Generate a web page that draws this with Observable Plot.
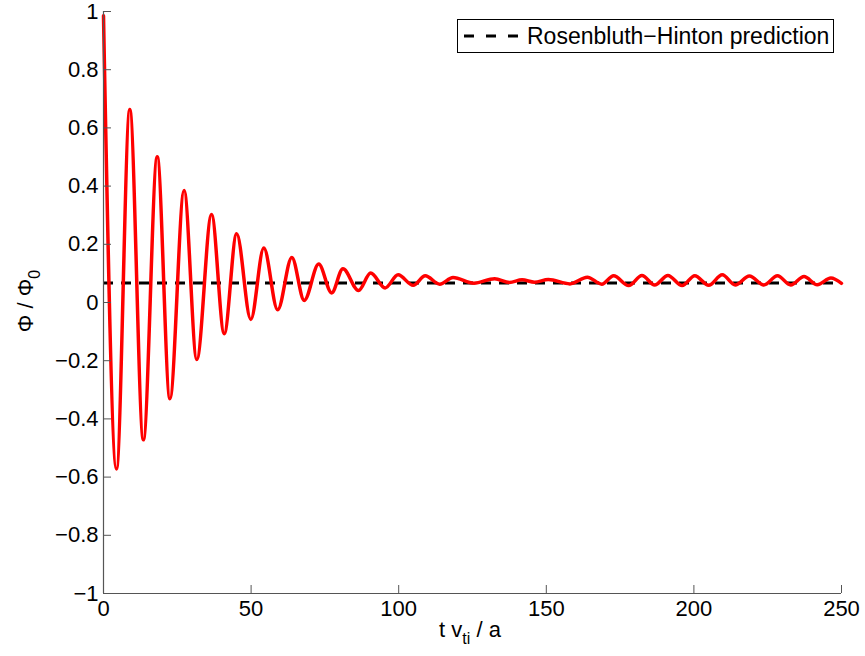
<!DOCTYPE html>
<html><head><meta charset="utf-8">
<script src="https://cdn.jsdelivr.net/npm/d3@7"></script>
<script src="https://cdn.jsdelivr.net/npm/@observablehq/plot@0.6"></script>
<style>
body{margin:0;background:#fff;}
#wrap{position:relative;width:865px;height:656px;font-family:"Liberation Sans",Arial,Helvetica,sans-serif;}
#legend{position:absolute;left:457px;top:19px;width:377px;height:34px;border:1px solid #000;background:#fff;box-sizing:border-box;display:flex;align-items:center;font-size:23px;color:#000;}
#legend svg{margin-left:3px;margin-right:6px;}
</style></head><body><div id="wrap"></div>
<script>
// extrema (peaks/troughs)
const tValues = [0, 4.4, 8.9, 13.5, 18.2, 22.5, 27.3, 31.6, 36.6, 40.9, 45.1, 49.9, 54.3, 59.0, 63.8, 68.0, 72.9, 77.3, 81.1, 86.4, 90.5, 95.4, 99.8, 104.9, 109.0, 113.9, 118.4, 125.5, 132.5, 137.5, 141.8, 146.0, 150.7, 158.0, 163.9, 168.8, 172.8, 177.9, 182.4, 186.7, 191.2, 196.0, 200.3, 205.0, 209.6, 214.0, 218.8, 223.7, 228.3, 232.8, 237.3, 241.8, 246.4, 250];
const phiValues = [0.985, -0.572, 0.663, -0.472, 0.501, -0.331, 0.385, -0.196, 0.302, -0.107, 0.236, -0.058, 0.187, -0.025, 0.155, 0.007, 0.132, 0.033, 0.116, 0.041, 0.101, 0.050, 0.095, 0.059, 0.092, 0.063, 0.086, 0.066, 0.082, 0.069, 0.078, 0.070, 0.079, 0.064, 0.087, 0.063, 0.092, 0.058, 0.093, 0.060, 0.093, 0.058, 0.092, 0.059, 0.095, 0.060, 0.091, 0.060, 0.092, 0.060, 0.089, 0.061, 0.084, 0.066];
const rhValue = 0.067;
const xTicks = [0, 50, 100, 150, 200, 250];
const yTicks = [-1, -0.8, -0.6, -0.4, -0.2, 0, 0.2, 0.4, 0.6, 0.8, 1];
const legendLabel = "Rosenbluth\u2212Hinton prediction";

const series = tValues.map((t, i) => ({t, phi: phiValues[i]}));
const fmt = d => (d < 0 ? "\u2212" : "") + String(+Math.abs(d).toFixed(1));
const FONT = "'Liberation Sans', Arial, Helvetica, sans-serif";
const axisColor = "#555";

const chart = Plot.plot({
  width: 865, height: 656,
  marginLeft: 103, marginRight: 24, marginTop: 11, marginBottom: 63,
  style: {fontFamily: FONT, fontSize: "22px", background: "#fff", color: "#000"},
  x: {domain: [0, 250]},
  y: {domain: [-1, 1]},
  marks: [
    Plot.ruleY([rhValue], {stroke: "#000", strokeWidth: 3, strokeDasharray: "10,8"}),
    Plot.line(series, {x: "t", y: "phi", stroke: "#ff0000", strokeWidth: 3.5, curve: "monotone-x"}),
    Plot.ruleX([0], {stroke: axisColor, strokeWidth: 1.2}),
    Plot.ruleY([-1], {stroke: axisColor, strokeWidth: 1.2}),
    Plot.axisX(xTicks, {tickSize: 8, dy: -8, tickFormat: () => "", label: null, stroke: axisColor}),
    Plot.axisX(xTicks, {tickSize: 0, tickPadding: 7, tickFormat: fmt, label: null, fontSize: 22, fill: "#000"}),
    Plot.axisY(yTicks, {tickSize: 8, dx: 8, tickFormat: () => "", label: null, stroke: axisColor}),
    Plot.axisY(yTicks, {tickSize: 0, tickPadding: 5, tickFormat: fmt, label: null, fontSize: 22, fill: "#000"})
  ]
});

const wrap = document.getElementById("wrap");
wrap.appendChild(chart);

const svg = d3.select(chart);
// x label with subscript
const xl = svg.append("text").attr("x", 470).attr("y", 637).attr("text-anchor", "middle")
  .attr("font-family", FONT).attr("font-size", 22).attr("fill", "#000");
xl.append("tspan").text("t v");
xl.append("tspan").attr("font-size", 16).attr("dy", 7).text("ti");
xl.append("tspan").attr("dy", -7).text(" / a");
// y label with subscript
const yl = svg.append("text").attr("transform", "translate(33,301) rotate(-90)").attr("text-anchor", "middle")
  .attr("font-family", FONT).attr("font-size", 22).attr("fill", "#000");
yl.append("tspan").text("\u03A6 / \u03A6");
yl.append("tspan").attr("font-size", 16).attr("dy", 7).text("0");

// legend
const lg = document.createElement("div");
lg.id = "legend";
lg.innerHTML = `<svg width="60" height="10"><line x1="3" x2="58" y1="5" y2="5" stroke="#000" stroke-width="3" stroke-dasharray="10,12"/></svg><span></span>`;
lg.querySelector("span").textContent = legendLabel;
wrap.appendChild(lg);
</script></body></html>
